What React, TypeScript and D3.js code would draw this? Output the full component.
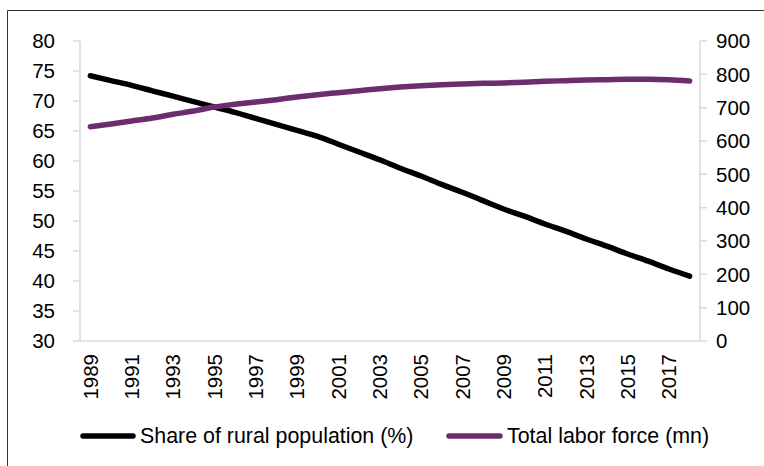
import React from "react";
import * as d3 from "d3";

const years: string[] = d3.range(1989, 2019).map(String);
const ruralShare: number[] = [
  74.2, 73.4, 72.6, 71.7, 70.8, 69.9, 69.0, 68.1, 67.1, 66.1,
  65.1, 64.1, 62.8, 61.5, 60.2, 58.8, 57.5, 56.1, 54.8, 53.4,
  52.0, 50.8, 49.5, 48.3, 47.0, 45.8, 44.5, 43.3, 42.0, 40.8,
];
const laborForce: number[] = [
  643, 651, 660, 669, 680, 690, 702, 710, 717, 724,
  732, 739, 745, 751, 757, 762, 766, 769, 771, 773,
  774, 776, 779, 781, 783, 784, 785, 785, 784, 780,
];
const leftTicks: number[] = [30, 35, 40, 45, 50, 55, 60, 65, 70, 75, 80];
const rightTicks: number[] = [0, 100, 200, 300, 400, 500, 600, 700, 800, 900];
const seriesNames: string[] = ["Share of rural population (%)", "Total labor force (mn)"];
const seriesColors: string[] = ["#000000", "#6B2D6F"];

export default function App() {
  const W = 764, H = 466;
  const plotL = 80, plotR = 700, plotT = 41, plotB = 341;
  const font = "'Liberation Sans', Arial, sans-serif";

  const x = d3.scaleBand<string>().domain(years).range([plotL, plotR]);
  const xc = (y: string) => (x(y) as number) + x.bandwidth() / 2;
  const yL = d3.scaleLinear().domain([30, 80]).range([plotB, plotT]);
  const yR = d3.scaleLinear().domain([0, 900]).range([plotB, plotT]);

  const lineL = d3.line<number>().x((_, i) => xc(years[i])).y((d) => yL(d)).curve(d3.curveMonotoneX);
  const lineR = d3.line<number>().x((_, i) => xc(years[i])).y((d) => yR(d)).curve(d3.curveMonotoneX);

  const axisColor = "#d9d9d9";

  return (
    <svg width={W} height={H} style={{ position: "absolute", left: 0, top: 0, background: "#fff" }}>
      <rect x={0} y={0} width={W} height={H} fill="#fff" />
      {/* frame */}
      <line x1={7.5} y1={10.5} x2={W} y2={10.5} stroke="#333" strokeWidth={1} />
      <line x1={7.5} y1={10.5} x2={7.5} y2={H} stroke="#333" strokeWidth={1} />

      {/* axes */}
      <line x1={plotL} y1={plotT} x2={plotL} y2={plotB} stroke={axisColor} strokeWidth={1.5} />
      <line x1={plotR} y1={plotT} x2={plotR} y2={plotB} stroke={axisColor} strokeWidth={1.5} />
      <line x1={plotL} y1={plotB} x2={plotR} y2={plotB} stroke={axisColor} strokeWidth={1.5} />

      {leftTicks.map((t) => (
        <g key={"l" + t}>
          <line x1={plotL - 7} x2={plotL} y1={yL(t)} y2={yL(t)} stroke={axisColor} strokeWidth={1.5} />
          <text x={55} y={yL(t)} dy="0.35em" textAnchor="end" fontFamily={font} fontSize={20.5} fill="#000">
            {t}
          </text>
        </g>
      ))}
      {rightTicks.map((t) => (
        <g key={"r" + t}>
          <line x1={plotR} x2={plotR + 7} y1={yR(t)} y2={yR(t)} stroke={axisColor} strokeWidth={1.5} />
          <text x={716} y={yR(t)} dy="0.35em" textAnchor="start" fontFamily={font} fontSize={20.5} fill="#000">
            {t}
          </text>
        </g>
      ))}
      {years.filter((_, i) => i % 2 === 0).map((yr) => (
        <text
          key={"x" + yr}
          transform={`translate(${xc(yr)},354) rotate(-90)`}
          dy="0.35em"
          textAnchor="end"
          fontFamily={font}
          fontSize={20.5}
          fill="#000"
        >
          {yr}
        </text>
      ))}

      {/* lines */}
      <path d={lineL(ruralShare) || ""} fill="none" stroke={seriesColors[0]} strokeWidth={5.5} strokeLinecap="round" strokeLinejoin="round" />
      <path d={lineR(laborForce) || ""} fill="none" stroke={seriesColors[1]} strokeWidth={5.5} strokeLinecap="round" strokeLinejoin="round" />

      {/* legend */}
      <line x1={83} x2={133} y1={436} y2={436} stroke={seriesColors[0]} strokeWidth={5.5} strokeLinecap="round" />
      <text x={140} y={436} dy="0.35em" fontFamily={font} fontSize={21.4} fill="#000">{seriesNames[0]}</text>
      <line x1={449} x2={500} y1={436} y2={436} stroke={seriesColors[1]} strokeWidth={5.5} strokeLinecap="round" />
      <text x={507} y={436} dy="0.35em" fontFamily={font} fontSize={21.4} fill="#000">{seriesNames[1]}</text>
    </svg>
  );
}
